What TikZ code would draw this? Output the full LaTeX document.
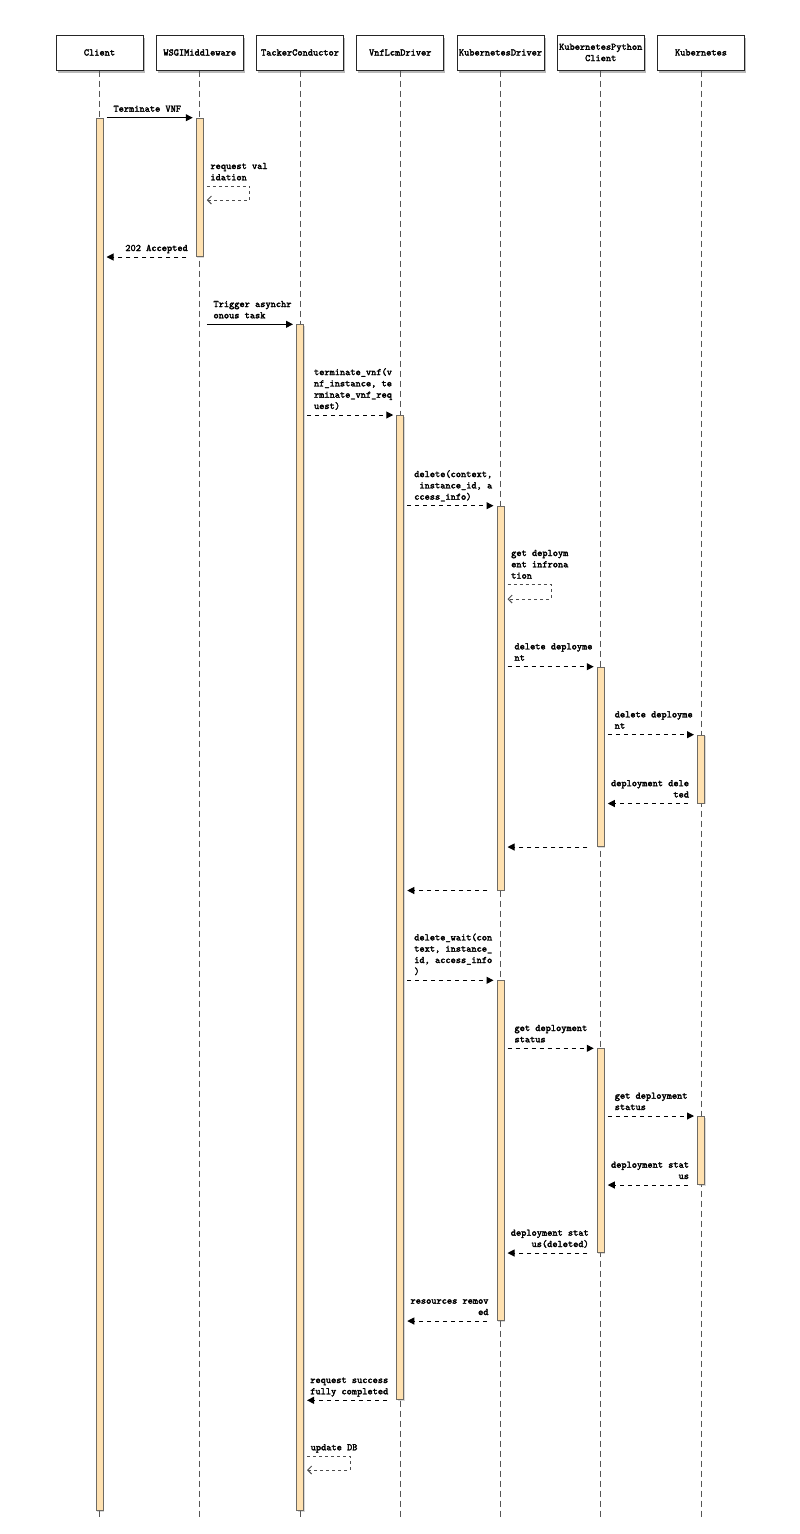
\documentclass[tikz,border=0pt]{standalone}
\usepackage{fontspec}
\newfontfamily\lbfam{lmmono10-regular.otf}[FakeBold=2.5]
\usetikzlibrary{arrows.meta,shadows}
\definecolor{barfill}{HTML}{FFE1B0}
\definecolor{barline}{HTML}{6E6A64}
\definecolor{lifegray}{HTML}{555555}
\newcommand\lblfont{\lbfam\fontsize{9.9}{11.3}\selectfont}
\begin{document}
\begin{tikzpicture}[x=1pt,y=-1pt,
  hdbox/.style={draw=black!85, line width=1pt, fill=white, minimum width=87pt, minimum height=35pt, inner sep=0pt, align=center, font=\lblfont, drop shadow={shadow xshift=1.5pt, shadow yshift=-3pt, opacity=.55}},
  actbar/.style={draw=barline, line width=1pt, fill=barfill, minimum width=7pt, inner sep=0pt, anchor=north, drop shadow={shadow xshift=1pt, shadow yshift=-1pt, opacity=.3}},
  lifeline/.style={draw=lifegray, line width=1pt, dash pattern=on 6pt off 4pt},
  syncmsg/.style={line width=1pt, -{Triangle[length=7pt,width=7pt]}, shorten <=3pt, shorten >=3pt},
  asyncmsg/.style={syncmsg, dash pattern=on 4pt off 4pt},
  replymsg/.style={asyncmsg, shorten <=9.5pt},
  selfmsg/.style={draw=black!70, line width=1pt, dash pattern=on 3pt off 3pt, -{Straight Barb[length=4pt,width=8pt]}},
  lbl/.style={font=\lblfont, inner sep=0pt, text depth=0pt},
  lbll/.style={lbl, align=left, anchor=south west},
  lblr/.style={lbl, align=right, anchor=south east}]
\useasboundingbox (0,0) rectangle (800,1534);

% participants
\node[hdbox] (hCl) at (99.5,52.5) {Client};
\node[hdbox] (hVs) at (199.75,52.5) {WSGIMiddleware};
\node[hdbox] (hTc) at (300,52.5) {TackerConductor};
\node[hdbox] (hVl) at (400.25,52.5) {VnfLcmDriver};
\node[hdbox] (hKd) at (500.5,52.5) {KubernetesDriver};
\node[hdbox] (hKp) at (600.75,52.5) {KubernetesPython\\Client};
\node[hdbox] (hK) at (701,52.5) {Kubernetes};

% lifelines
\foreach \n in {Cl,Vs,Tc,Vl,Kd,Kp,K} {
  \coordinate (e\n) at (h\n.south |- 0,1518);
  \draw[lifeline] (h\n.south) -- (e\n);
}

% activation bars
\node[actbar, minimum height=1392.3pt] (bCl) at (99.5,117.7) {};
\node[actbar, minimum height=138.3pt] (bVs) at (199.75,117.7) {};
\node[actbar, minimum height=1185.7pt] (bTc) at (300,324.3) {};
\node[actbar, minimum height=984.3pt] (bVl) at (400.25,415) {};
\node[actbar, minimum height=383.8pt] (bKd1) at (500.5,505.7) {};
\node[actbar, minimum height=179.3pt] (bKp1) at (600.75,666.7) {};
\node[actbar, minimum height=67.8pt] (bK1) at (701,734.7) {};
\node[actbar, minimum height=339.7pt] (bKd2) at (500.5,980.3) {};
\node[actbar, minimum height=203.7pt] (bKp2) at (600.75,1048.3) {};
\node[actbar, minimum height=68pt] (bK2) at (701,1116) {};

% messages
\draw[syncmsg] (bCl.east |- bVs.north) -- node[lbll, pos=0, xshift=9.5pt, yshift=5.5pt] (t1) {Terminate VNF} (bVs.north west);

\coordinate (c2) at (bVs.east |- 0,186);
\draw[selfmsg] ([xshift=3pt]c2) -- ++(43,0) -- ++(0,14) -- ++(-43,0);
\node[lbll] (t2) at ([xshift=6.5pt,yshift=5.5pt]c2) {request val\\idation};

\draw[replymsg] (bVs.south west) -- node[lblr, pos=0, xshift=-7.5pt, yshift=5.5pt] (t3) {202 Accepted} (bCl.east |- bVs.south);

\coordinate (c4) at (hVs.south |- bTc.north);
\draw[syncmsg, shorten <=7pt] (c4) -- node[lbll, pos=0, xshift=13.25pt, yshift=5.5pt] (t4) {Trigger asynchr\\onous task} (bTc.north west);

\draw[asyncmsg] (bTc.east |- bVl.north) -- node[lbll, pos=0, xshift=9.5pt, yshift=5.5pt] (t5) {terminate\_vnf(v\\nf\_instance, te\\rminate\_vnf\_req\\uest)} (bVl.north west);

\draw[asyncmsg] (bVl.east |- bKd1.north) -- node[lbll, pos=0, xshift=9.5pt, yshift=5.5pt] (t6) {delete(context,\\\hphantom{x}instance\_id, a\\ccess\_info)} (bKd1.north west);

\coordinate (c7) at (bKd1.east |- 0,584.3);
\draw[selfmsg] ([xshift=3pt]c7) -- ++(43.5,0) -- ++(0,14.7) -- ++(-43.5,0);
\node[lbll] (t7) at ([xshift=6.5pt,yshift=5.5pt]c7) {get deploym\\ent infrona\\tion};

\draw[asyncmsg] (bKd1.east |- bKp1.north) -- node[lbll, pos=0, xshift=9.5pt, yshift=5.5pt] (t8) {delete deployme\\nt} (bKp1.north west);

\draw[asyncmsg] (bKp1.east |- bK1.north) -- node[lbll, pos=0, xshift=9.5pt, yshift=5.5pt] (t9) {delete deployme\\nt} (bK1.north west);

\draw[replymsg] (bK1.south west) -- node[lblr, pos=0, xshift=-7.5pt, yshift=5.5pt] (t10) {deployment dele\\ted} (bKp1.east |- bK1.south);

\draw[replymsg] (bKp1.south west) -- (bKd1.east |- bKp1.south);

\draw[replymsg] (bKd1.south west) -- (bVl.east |- bKd1.south);

\draw[asyncmsg] (bVl.east |- bKd2.north) -- node[lbll, pos=0, xshift=9.5pt, yshift=5.5pt] (t13) {delete\_wait(con\\text, instance\_\\id, access\_info\\)} (bKd2.north west);

\draw[asyncmsg] (bKd2.east |- bKp2.north) -- node[lbll, pos=0, xshift=9.5pt, yshift=5.5pt] (t14) {get deployment\\status} (bKp2.north west);

\draw[asyncmsg] (bKp2.east |- bK2.north) -- node[lbll, pos=0, xshift=9.5pt, yshift=5.5pt] (t15) {get deployment\\status} (bK2.north west);

\draw[replymsg] (bK2.south west) -- node[lblr, pos=0, xshift=-7.5pt, yshift=5.5pt] (t16) {deployment stat\\us} (bKp2.east |- bK2.south);

\draw[replymsg] (bKp2.south west) -- node[lblr, pos=0, xshift=-7.5pt, yshift=5.5pt] (t17) {deployment stat\\us(deleted)} (bKd2.east |- bKp2.south);

\draw[replymsg] (bKd2.south west) -- node[lblr, pos=0, xshift=-7.5pt, yshift=5.5pt] (t18) {resources remov\\ed} (bVl.east |- bKd2.south);

\draw[replymsg] (bVl.south west) -- node[lblr, pos=0, xshift=-7.5pt, yshift=5.5pt] (t19) {request success\\fully completed} (bTc.east |- bVl.south);

\coordinate (c20) at (bTc.east |- 0,1456);
\draw[selfmsg] ([xshift=3pt]c20) -- ++(43,0) -- ++(0,14) -- ++(-43,0);
\node[lbll] (t20) at ([xshift=6.5pt,yshift=5.5pt]c20) {update DB};
\end{tikzpicture}
\end{document}
